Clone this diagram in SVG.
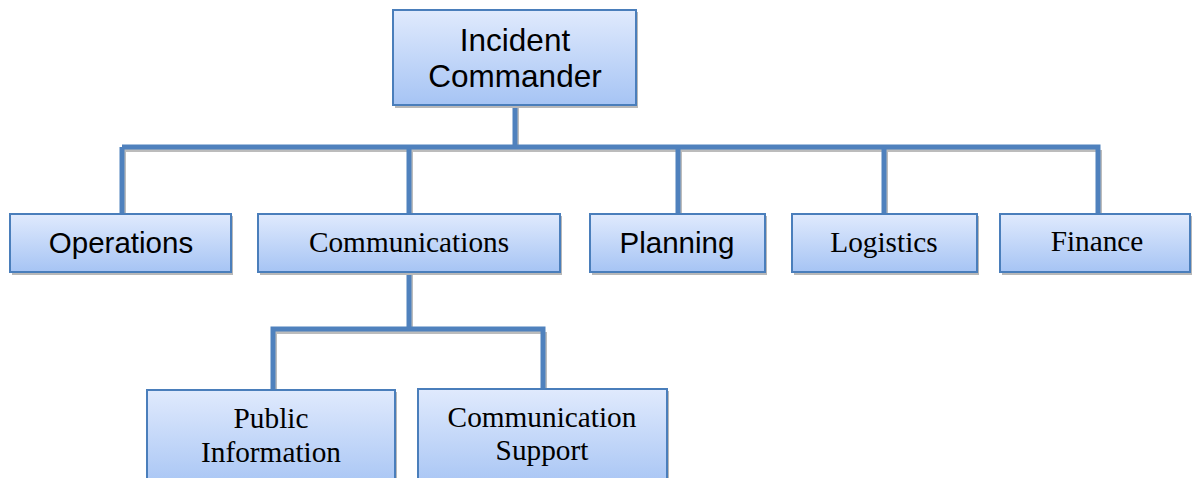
<svg xmlns="http://www.w3.org/2000/svg" width="1193" height="478" viewBox="0 0 1193 478">
  <style>
    .box { fill: url(#boxFill); stroke: #4a7ebb; stroke-width: 2; }
    .shadow { fill: #b8b8b8; }
    .wire { fill: none; stroke: #4f81bd; stroke-width: 5; stroke-linejoin: miter; }
    .wireShadow { fill: none; stroke: #bcbcbc; stroke-width: 4; }
    .sans { font-family: "Liberation Sans", Arial, sans-serif; fill: #000; text-anchor: middle; }
    .serif { font-family: "Liberation Serif", "Times New Roman", serif; fill: #000; text-anchor: middle; font-size: 29.3px; }
  </style>
  <defs>
    <linearGradient id="boxFill" x1="0" y1="0" x2="0" y2="1">
      <stop offset="0" stop-color="#e0eafd"/>
      <stop offset="1" stop-color="#a6c4f4"/>
    </linearGradient>
  </defs>
  <rect width="1193" height="478" fill="#ffffff"/>

  <!-- connectors -->
  <g id="connectors">
    <path class="wireShadow" d="M517 107 V150 M124 150 H1098 M124 150 V215 M411 150 V215 M680 150 V215 M886 150 V215 M1100 150 V215 M411 274 V332 M275 332 H545 M275 332 V391 M545 332 V391"/>
    <path class="wire" d="M515 105 V147 M122 147 H1098 M122 147 V214 M409 147 V214 M678 147 V214 M884 147 V214 M1098 144.5 V214 M409 272 V329 M273 329 H543 M273 326.5 V390 M543 326.5 V390"/>
  </g>

  <g id="incident-commander">
    <rect class="shadow" x="395" y="12" width="243" height="96"/>
    <rect class="box" x="393" y="10" width="243" height="95"/>
    <text class="sans" x="515" y="51" font-size="31.5">Incident</text>
    <text class="sans" x="515" y="87" font-size="31.5">Commander</text>
  </g>

  <g id="operations">
    <rect class="shadow" x="12" y="216" width="221" height="59"/>
    <rect class="box" x="10" y="214" width="221" height="58"/>
    <text class="sans" x="121" y="253" font-size="29.5">Operations</text>
  </g>

  <g id="communications">
    <rect class="shadow" x="260" y="216" width="302" height="59"/>
    <rect class="box" x="258" y="214" width="302" height="58"/>
    <text class="serif" x="409" y="252">Communications</text>
  </g>

  <g id="planning">
    <rect class="shadow" x="592" y="216" width="175" height="59"/>
    <rect class="box" x="590" y="214" width="175" height="58"/>
    <text class="sans" x="677" y="253" font-size="29.5">Planning</text>
  </g>

  <g id="logistics">
    <rect class="shadow" x="794" y="216" width="185" height="59"/>
    <rect class="box" x="792" y="214" width="185" height="58"/>
    <text class="serif" x="884" y="252">Logistics</text>
  </g>

  <g id="finance">
    <rect class="shadow" x="1002" y="216" width="190" height="59"/>
    <rect class="box" x="1000" y="214" width="190" height="58"/>
    <text class="serif" x="1097" y="251">Finance</text>
  </g>

  <g id="public-information">
    <rect class="shadow" x="149" y="392" width="248" height="100"/>
    <rect class="box" x="147" y="390" width="248" height="100"/>
    <text class="serif" x="271" y="428">Public</text>
    <text class="serif" x="271" y="462">Information</text>
  </g>

  <g id="communication-support">
    <rect class="shadow" x="420" y="391" width="249" height="100"/>
    <rect class="box" x="418" y="389" width="249" height="100"/>
    <text class="serif" x="542" y="427">Communication</text>
    <text class="serif" x="542" y="460">Support</text>
  </g>
</svg>
